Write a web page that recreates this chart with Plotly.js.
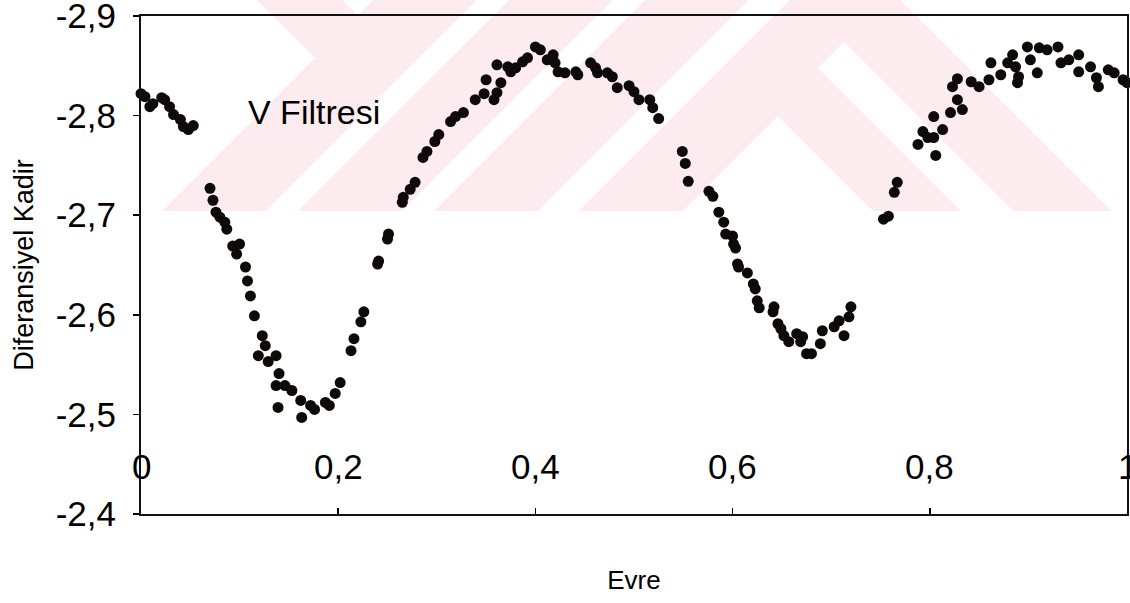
<!DOCTYPE html>
<html>
<head>
<meta charset="utf-8">
<script src="https://cdn.plot.ly/plotly-3.0.1.min.js"></script>
<style>
html,body{margin:0;padding:0;background:#fff;}
#chart{width:1130px;height:603px;}
</style>
</head>
<body>
<div id="chart"></div>
<script>
// ---- data ----
const phase = [
  0.000,0.004,0.009,0.012,0.021,0.024,0.029,0.033,0.040,0.043,0.048,0.053,
  0.070,0.073,0.076,0.080,0.085,0.087,0.093,0.100,0.097,0.106,0.108,0.111,
  0.115,0.123,0.126,0.119,0.129,0.137,0.140,0.137,0.146,0.153,0.139,0.162,
  0.163,0.172,0.176,0.187,0.191,0.197,0.202,0.213,0.216,0.223,0.226,0.240,
  0.241,0.250,0.251,0.265,0.266,0.273,0.278,0.286,0.290,0.298,0.302,0.314,
  0.319,0.327,0.339,0.348,0.350,0.358,0.361,0.365,0.361,0.372,0.375,0.380,
  0.387,0.392,0.400,0.405,0.412,0.418,0.420,0.423,0.430,0.441,0.443,0.456,
  0.461,0.463,0.473,0.478,0.483,0.495,0.500,0.505,0.516,0.519,0.525,
  0.549,0.552,0.555,0.576,0.580,0.586,0.591,0.593,0.600,0.601,0.603,0.605,
  0.606,0.615,0.621,0.623,0.625,0.627,0.642,0.641,0.646,0.649,0.652,0.657,
  0.665,0.671,0.669,0.675,0.680,0.689,0.691,0.703,0.708,0.713,0.718,0.720,
  0.753,0.758,0.764,0.767,0.788,0.793,0.798,0.804,0.806,0.813,0.804,0.821,
  0.828,0.833,0.823,0.828,0.842,0.850,0.860,0.862,0.872,0.879,0.884,0.887,
  0.889,0.890,0.899,0.902,0.909,0.911,0.919,0.930,0.933,0.941,0.951,0.951,
  0.963,0.969,0.971,0.981,0.987,0.996,1.000
];
const diffMag = [
  -2.822,-2.819,-2.809,-2.812,-2.818,-2.816,-2.809,-2.801,-2.796,-2.789,-2.786,-2.790,
  -2.727,-2.715,-2.703,-2.698,-2.693,-2.686,-2.669,-2.671,-2.661,-2.648,-2.634,-2.619,
  -2.599,-2.579,-2.569,-2.559,-2.553,-2.559,-2.541,-2.529,-2.529,-2.524,-2.507,-2.514,
  -2.497,-2.509,-2.505,-2.512,-2.509,-2.521,-2.532,-2.564,-2.576,-2.593,-2.603,-2.651,
  -2.654,-2.676,-2.681,-2.713,-2.718,-2.726,-2.733,-2.758,-2.764,-2.774,-2.781,-2.794,
  -2.799,-2.803,-2.816,-2.822,-2.836,-2.816,-2.823,-2.833,-2.851,-2.849,-2.844,-2.848,
  -2.854,-2.858,-2.869,-2.866,-2.856,-2.861,-2.853,-2.844,-2.843,-2.844,-2.841,-2.853,
  -2.848,-2.843,-2.843,-2.839,-2.828,-2.830,-2.824,-2.816,-2.816,-2.808,-2.797,
  -2.764,-2.752,-2.734,-2.724,-2.719,-2.703,-2.693,-2.681,-2.679,-2.671,-2.667,-2.651,
  -2.648,-2.642,-2.631,-2.626,-2.614,-2.607,-2.608,-2.603,-2.591,-2.586,-2.579,-2.573,
  -2.581,-2.578,-2.573,-2.561,-2.561,-2.571,-2.584,-2.588,-2.594,-2.579,-2.598,-2.608,
  -2.696,-2.699,-2.723,-2.733,-2.771,-2.784,-2.778,-2.778,-2.760,-2.786,-2.799,-2.803,
  -2.816,-2.806,-2.829,-2.837,-2.834,-2.829,-2.836,-2.853,-2.841,-2.853,-2.861,-2.849,
  -2.833,-2.839,-2.869,-2.856,-2.843,-2.868,-2.866,-2.869,-2.853,-2.856,-2.861,-2.844,
  -2.849,-2.838,-2.829,-2.846,-2.843,-2.836,-2.833
];
const xTickVals = [0, 0.2, 0.4, 0.6, 0.8, 1];
const xTickText = ['0', '0,2', '0,4', '0,6', '0,8', '1'];
const xLabelLevel = -2.448;   // the x labels sit inside the frame at this height
const yTickVals = [-2.9, -2.8, -2.7, -2.6, -2.5, -2.4];
const yTickText = ['-2,9', '-2,8', '-2,7', '-2,6', '-2,5', '-2,4'];
const seriesLabel = 'V Filtresi';
const xTitle = 'Evre';
const yTitle = 'Diferansiyel Kadir';

// ---- decorative background watermark (pixel outlines, converted to paper units) ----
const M = {l: 141, r: 3, t: 16, b: 89};
const W = 1130, H = 603;
const pw = W - M.l - M.r, ph = H - M.t - M.b;
function toPath(pts) {
  return pts.map((p, i) => (i ? 'L' : 'M') + ((p[0] - M.l) / pw).toFixed(4) + ',' +
    ((H - M.b - p[1]) / ph).toFixed(4)).join(' ') + ' Z';
}
const pinkPolys = [
  [[257,0],[342,0],[399,57],[314,57]],
  [[162,211],[266,211],[477,0],[373,0]],
  [[298,211],[402,211],[613,0],[509,0]],
  [[434,211],[538,211],[749,0],[645,0]],
  [[579,211],[683,211],[894,0],[790,0]],
  [[790,0],[900,0],[1111,211],[873,211],[777,115]]
];
const whitePolys = [
  [[818,68],[844,42],[1013,211],[961,211]]
];
const shapes = [];
pinkPolys.forEach(p => shapes.push({type:'path', xref:'paper', yref:'paper', layer:'below',
  path: toPath(p), fillcolor:'#fdecef', line:{width:0}}));
whitePolys.forEach(p => shapes.push({type:'path', xref:'paper', yref:'paper', layer:'below',
  path: toPath(p), fillcolor:'#ffffff', line:{width:0}}));

const font = 'Arial, "Liberation Sans", sans-serif';
const tickFontSize = 35;

const trace = {
  x: phase, y: diffMag, type: 'scatter', mode: 'markers', name: seriesLabel,
  marker: {color: '#0e0a0a', size: 11}, cliponaxis: false, hoverinfo: 'x+y'
};

const annotations = [{
  text: seriesLabel, x: 0.175, y: -2.804, xref: 'x', yref: 'y', showarrow: false,
  font: {size: 34, family: font, color: '#000'}
}];
xTickVals.forEach((v, i) => annotations.push({
  text: xTickText[i], x: v, y: xLabelLevel, xref: 'x', yref: 'y', showarrow: false,
  font: {size: tickFontSize, family: font, color: '#000'}
}));

const layout = {
  width: W, height: H,
  margin: M,
  paper_bgcolor: '#ffffff', plot_bgcolor: 'rgba(0,0,0,0)',
  showlegend: false,
  separators: ', ',
  font: {family: font, color: '#000'},
  shapes: shapes,
  xaxis: {
    range: [0, 1], tickvals: xTickVals, ticktext: xTickText, showticklabels: false,
    ticks: 'inside', ticklen: 6, tickwidth: 1.5, tickcolor: '#000',
    showline: true, linecolor: '#111', linewidth: 2, mirror: true,
    showgrid: false, zeroline: false,
    title: {text: xTitle, font: {size: 26, family: font, color: '#000'}, standoff: 56}
  },
  yaxis: {
    range: [-2.4, -2.9], tickvals: yTickVals, ticktext: yTickText,
    ticks: 'outside', ticklen: 6, tickwidth: 1.5, tickcolor: '#000',
    ticklabelstandoff: 10, ticklabeloverflow: 'allow',
    tickfont: {size: tickFontSize, family: font, color: '#000'},
    showline: true, linecolor: '#111', linewidth: 2, mirror: true,
    showgrid: false, zeroline: false,
    title: {text: yTitle, font: {size: 27, family: font, color: '#000'}, standoff: 14}
  },
  annotations: annotations
};

Plotly.newPlot('chart', [trace], layout, {displayModeBar: false, staticPlot: true});
</script>
</body>
</html>
